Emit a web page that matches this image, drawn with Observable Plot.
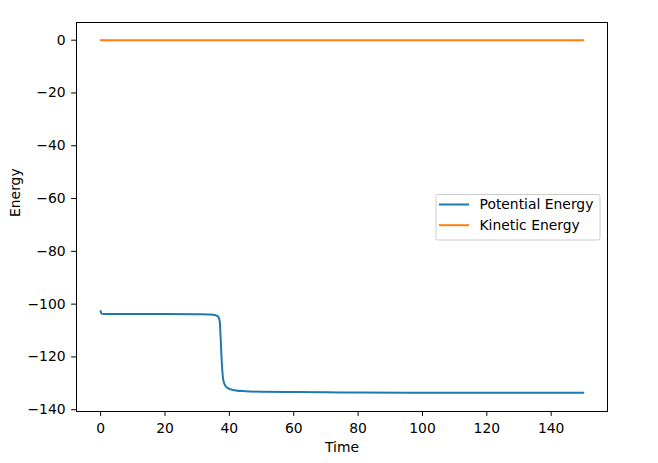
<!DOCTYPE html>
<html>
<head>
<meta charset="utf-8">
<script src="https://cdn.jsdelivr.net/npm/d3@7"></script>
<script src="https://cdn.jsdelivr.net/npm/@observablehq/plot@0.6"></script>
<style>
  body { margin: 0; background: #fff; }
  #chart svg { display: block; }
</style>
</head>
<body>
<div id="chart"></div>
<script>
// values
const potentialTime = [0, 0.25, 1, 5, 10, 20, 30, 34, 35.5, 36.5, 37, 37.3, 37.6, 38, 38.5, 39, 40, 42, 45, 50, 60, 70, 80, 100, 120, 150];
const potentialEnergy = [-102.6, -103.6, -103.7, -103.7, -103.7, -103.7, -103.8, -103.9, -104.1, -104.7, -106.5, -113, -121, -127.8, -130.3, -131.3, -132.1, -132.7, -133.0, -133.2, -133.3, -133.4, -133.5, -133.6, -133.6, -133.6];
const kineticTime = [0, 50, 100, 150];
const kineticEnergy = [0, 0, 0, 0];
const xTicks = [0, 20, 40, 60, 80, 100, 120, 140];
const yTicks = [0, -20, -40, -60, -80, -100, -120, -140];
const seriesNames = ["Potential Energy", "Kinetic Energy"];
const seriesColors = ["#1f77b4", "#ff7f0e"];

const potential = potentialTime.map((t, i) => ({t, e: potentialEnergy[i]}));
const kinetic = kineticTime.map((t, i) => ({t, e: kineticEnergy[i]}));
const fmt = d => d < 0 ? "\u2212" + Math.abs(d) : String(d);

const chart = Plot.plot({
  width: 658,
  height: 463,
  marginLeft: 76,
  marginRight: 51,
  marginTop: 22,
  marginBottom: 52,
  style: {fontFamily: "DejaVu Sans", fontSize: "13.9px", color: "black", background: "white"},
  x: {domain: [-7.5, 157.5], ticks: xTicks, tickSize: 4.9, tickPadding: 7, tickFormat: fmt, label: null},
  y: {domain: [-140.68, 6.7], ticks: yTicks, tickSize: 4.9, tickPadding: 6, tickFormat: fmt, label: null},
  marks: [
    Plot.line(potential, {x: "t", y: "e", stroke: seriesColors[0], strokeWidth: 2, curve: "monotone-x"}),
    Plot.line(kinetic, {x: "t", y: "e", stroke: seriesColors[1], strokeWidth: 2}),
    Plot.frame({stroke: "black", strokeWidth: 1}),
    Plot.text(["Time"], {frameAnchor: "bottom", dy: 40, text: d => d, fill: "black", fontSize: 13.9}),
    Plot.text(["Energy"], {frameAnchor: "left", dx: -61, rotate: -90, text: d => d, fill: "black", fontSize: 13.9})
  ]
});

d3.select("#chart").append(() => chart);

// legend box inside the axes
const svg = d3.select(chart);
const lg = svg.append("g").attr("transform", "translate(436,194.5)");
lg.append("rect")
  .attr("width", 164).attr("height", 45.5).attr("rx", 2)
  .attr("fill", "white").attr("fill-opacity", 0.8)
  .attr("stroke", "#cccccc");
seriesNames.forEach((name, i) => {
  const y = 10 + i * 20.7;
  lg.append("line")
    .attr("x1", 3).attr("x2", 33).attr("y1", y).attr("y2", y)
    .attr("stroke", seriesColors[i]).attr("stroke-width", 2);
  lg.append("text")
    .attr("x", 43.5).attr("y", y).attr("dy", "0.35em")
    .attr("text-anchor", "start")
    .attr("font-family", "DejaVu Sans").attr("font-size", 13.9)
    .attr("fill", "black").text(name);
});
</script>
</body>
</html>
